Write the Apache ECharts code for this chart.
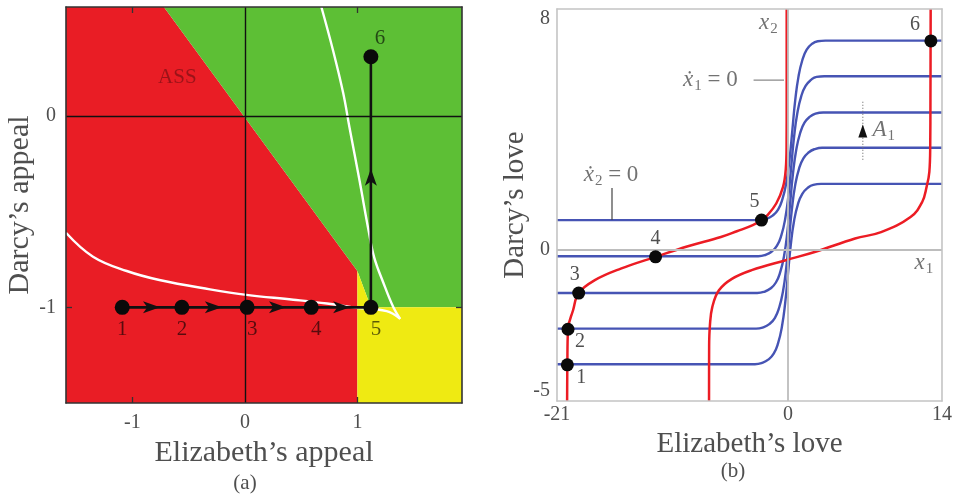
<!DOCTYPE html>
<html><head><meta charset="utf-8">
<script src="https://cdn.jsdelivr.net/npm/echarts@6/dist/echarts.min.js"></script>
<style>html,body{margin:0;padding:0;background:#fff}#c{width:955px;height:494px}</style>
</head><body><div id="c"></div>
<script>
// ================= Panel (a) =================
const appealXRange = [-1.59, 1.93];
const appealYRange = [-1.5, 0.57];
const appealXTicks = [-1, 0, 1];
const appealYTicks = [-1, 0];
const redRegion = [[-1.59,0.57],[-0.72,0.57],[1,-0.81],[1,-1.5],[-1.59,-1.5]];
const greenRegion = [[-0.72,0.57],[1.93,0.57],[1.93,-1],[1.12,-1],[1,-0.81]];
const yellowRegion = [[1,-0.81],[1.12,-1],[1.93,-1],[1.93,-1.5],[1,-1.5]];
const whiteLower = [[-1.59,-0.61],[-1.35,-0.735],[-1.05,-0.81],[-0.76,-0.857],[-0.31,-0.906],[0.015,-0.935],[0.43,-0.96],[0.73,-0.98],[0.96,-1.0],[1.26,-1.02],[1.38,-1.06]];
const whiteUpper = [[0.68,0.57],[0.785,0.34],[0.874,0.12],[0.93,-0.06],[1.02,-0.34],[1.1,-0.6],[1.15,-0.74],[1.23,-0.87],[1.32,-1.0],[1.38,-1.06]];
const appealPath = [[-1.09,-1],[1.12,-1],[1.12,0.31]];
const appealPoints = [[-1.09,-1],[-0.56,-1],[0.02,-1],[0.59,-1],[1.12,-1],[1.12,0.31]];
const appealPointLabels = ['1','2','3','4','5','6'];
const arrowRight = [[-0.83,-1],[-0.28,-1],[0.29,-1],[0.86,-1]];
const arrowUp = [[1.12,-0.32]];
const assLabel = [[-0.6,0.2]];

// ================= Panel (b) =================
const loveXRange = [-21, 14];
const loveYRange = [-5, 8];
const loveXTicks = [-21, 0, 14];
const loveYTicks = [-5, 0, 8];
const blue1 = [[-21,-3.78],[-3,-3.78],[-2.3,-3.73],[-1.8,-3.63],[-1.3,-3.43],[-0.9,-3.08],[-0.55,-2.53],[-0.25,-1.73],[0,-0.78],[0.25,0.17],[0.55,0.97],[0.9,1.52],[1.3,1.87],[1.8,2.07],[2.3,2.17],[3,2.2],[14,2.2]];
const blue2 = [[-21,-2.6],[-2.9,-2.6],[-2.2,-2.55],[-1.7,-2.45],[-1.2,-2.25],[-0.8,-1.9],[-0.45,-1.35],[-0.15,-0.55],[0.1,0.4],[0.35,1.35],[0.65,2.15],[1.0,2.7],[1.4,3.05],[1.9,3.25],[2.4,3.35],[3.1,3.4],[14,3.4]];
const blue3 = [[-21,-1.42],[-2.8,-1.42],[-2.1,-1.37],[-1.6,-1.27],[-1.1,-1.07],[-0.7,-0.72],[-0.35,-0.17],[-0.05,0.63],[0.2,1.58],[0.45,2.53],[0.75,3.33],[1.1,3.88],[1.5,4.23],[2.0,4.43],[2.5,4.53],[3.2,4.57],[14,4.57]];
const blue4 = [[-21,-0.2],[-2.7,-0.2],[-2.0,-0.15],[-1.5,-0.05],[-1.0,0.15],[-0.6,0.5],[-0.25,1.05],[0.05,1.85],[0.3,2.8],[0.55,3.75],[0.85,4.55],[1.2,5.1],[1.6,5.45],[2.1,5.65],[2.6,5.75],[3.3,5.77],[14,5.77]];
const blue5 = [[-21,1.0],[-2.6,1.0],[-1.9,1.05],[-1.4,1.15],[-0.9,1.35],[-0.5,1.7],[-0.15,2.25],[0.15,3.05],[0.4,4.0],[0.65,4.95],[0.95,5.75],[1.3,6.3],[1.7,6.65],[2.2,6.85],[2.7,6.93],[3.4,6.95],[14,6.95]];
const redLeft = [[-20.08,-5],[-20.06,-3.8],[-20.0,-2.62],[-19.54,-1.99],[-19.03,-1.42],[-17.6,-1.0],[-15.2,-0.61],[-12.04,-0.22],[-9.1,0.13],[-6.1,0.44],[-4.65,0.63],[-3.2,0.83],[-2.41,1.0],[-1.9,1.15],[-1.07,1.55],[-0.45,2.1],[-0.2,2.7],[-0.13,3.5],[-0.12,5],[-0.12,8]];
const redRight = [[-7.18,-5],[-7.17,-3.2],[-7.1,-2.5],[-6.88,-1.88],[-6.28,-1.33],[-5.1,-0.95],[-3.3,-0.66],[-0.2,-0.33],[2.5,-0.05],[6.1,0.39],[8.46,0.6],[11.14,1.1],[12.2,1.6],[12.6,2.1],[12.85,2.6],[12.93,3.5],[12.95,5],[12.97,8]];
const lovePoints = [[-20.06,-3.8],[-20.0,-2.62],[-19.03,-1.42],[-12.04,-0.22],[-2.41,1.0],[12.99,6.94]];
const lovePointLabels = ['1','2','3','4','5','6'];
const leaderX1 = [[-3.13,5.64],[-0.36,5.64]];
const leaderX2 = [[-16.0,2.06],[-16.0,1.0]];
const a1Dotted = [[6.8,4.92],[6.8,2.99]];
const a1Arrow = [[6.8,3.95]];
const annotPos = [[-1.79,7.53],[12.35,-0.43],[-7.06,5.64],[-16.09,2.49],[8.7,3.98]];
const annotText = ['{i|x}{s|2}','{i|x}{s|1}','{i|ẋ}{s|1}{n| = 0}','{i|ẋ}{s|2}{n| = 0}','{i|A}{s|1}'];

// ================= chart =================
const SERIF = 'Liberation Serif';
const GRAY = '#4f4f4f';
const chart = echarts.init(document.getElementById('c'));

function polygon(points, color, axisIdx) {
  return {
    type: 'custom', xAxisIndex: axisIdx, yAxisIndex: axisIdx, silent: true, z: 1,
    data: points, encode: { x: 0, y: 1 },
    renderItem: function (params, api) {
      if (params.dataIndex !== 0) return null;
      return { type: 'polygon', shape: { points: points.map(p => api.coord(p)) }, style: { fill: color } };
    }
  };
}
function line(data, color, width, axisIdx, extra) {
  return Object.assign({
    type: 'line', xAxisIndex: axisIdx, yAxisIndex: axisIdx, data: data, showSymbol: false, symbol: 'none',
    silent: true, lineStyle: { color: color, width: width }, z: 3
  }, extra || {});
}
function frameAxes(range, ticks, gridIdx, color, tickVals, pos, labels, extra) {
  return Object.assign({
    type: 'value', gridIndex: gridIdx, min: range[0], max: range[1], position: pos,
    axisLine: { show: true, onZero: false, lineStyle: { color: color, width: 1.6 } },
    axisTick: { show: tickVals.length > 0, inside: true, length: 6, customValues: tickVals, lineStyle: { color: color, width: 1.3 } },
    axisLabel: { show: labels, customValues: ticks, fontFamily: SERIF, fontSize: 20, color: GRAY },
    splitLine: { show: false }, z: 10
  }, extra || {});
}
const rich = {
  i: { fontFamily: SERIF, fontStyle: 'italic', fontSize: 23, color: GRAY },
  s: { fontFamily: SERIF, fontSize: 15, color: GRAY, padding: [12, 0, 0, 1] },
  n: { fontFamily: SERIF, fontSize: 23, color: GRAY }
};
const nameStyle = { fontFamily: SERIF, fontSize: 30, color: GRAY };

const option = {
  animation: false,
  backgroundColor: '#fff',
  grid: [
    { left: 66, top: 7, width: 396, height: 396 },
    { left: 557, top: 9, width: 391, height: 392 }
  ],
  xAxis: [
    frameAxes(appealXRange, appealXTicks, 0, '#333', [-1, 1], 'bottom', true, {
      name: 'Elizabeth’s appeal', nameLocation: 'middle', nameGap: 30, nameTextStyle: nameStyle,
      axisLabel: { customValues: appealXTicks, fontFamily: SERIF, fontSize: 20, color: GRAY, margin: 10 } }),
    frameAxes(loveXRange, loveXTicks, 1, '#c4c4c4', [], 'bottom', true, {
      name: 'Elizabeth’s love', nameLocation: 'middle', nameGap: 22, nameTextStyle: Object.assign({}, nameStyle, { fontSize: 29 }),
      axisLabel: { customValues: loveXTicks, fontFamily: SERIF, fontSize: 20, color: GRAY, margin: 4 } }),
    frameAxes(appealXRange, [], 0, '#333', [-1, 1], 'top', false),
    frameAxes(loveXRange, [], 1, '#c4c4c4', [], 'top', false)
  ],
  yAxis: [
    frameAxes(appealYRange, appealYTicks, 0, '#333', [-1], 'left', true, {
      name: 'Darcy’s appeal', nameLocation: 'middle', nameGap: 23, nameTextStyle: nameStyle,
      axisLabel: { customValues: appealYTicks, fontFamily: SERIF, fontSize: 20, color: GRAY, margin: 10 } }),
    frameAxes(loveYRange, loveYTicks, 1, '#c4c4c4', [], 'left', true, {
      name: 'Darcy’s love', nameLocation: 'middle', nameGap: 21, nameTextStyle: Object.assign({}, nameStyle, { fontSize: 29 }),
      axisLabel: { customValues: loveYTicks, fontFamily: SERIF, fontSize: 20, color: GRAY, margin: 7, verticalAlignMinLabel: 'bottom', verticalAlignMaxLabel: 'top' } }),
    frameAxes(appealYRange, [], 0, '#333', [-1], 'right', false),
    frameAxes(loveYRange, [], 1, '#c4c4c4', [], 'right', false)
  ],
  graphic: [
    { type: 'text', x: 245, y: 483, style: { text: '(a)', fontSize: 21, fontFamily: SERIF, fill: GRAY, align: 'center', verticalAlign: 'middle', textAlign: 'center', textVerticalAlign: 'middle' } },
    { type: 'text', x: 733, y: 471, style: { text: '(b)', fontSize: 21, fontFamily: SERIF, fill: GRAY, align: 'center', verticalAlign: 'middle', textAlign: 'center', textVerticalAlign: 'middle' } }
  ],
  series: [
    // ---- (a)
    polygon(redRegion, '#e91d25', 0),
    polygon(greenRegion, '#5dbf35', 0),
    polygon(yellowRegion, '#efea12', 0),
    {
      type: 'line', xAxisIndex: 0, yAxisIndex: 0, data: [], silent: true, z: 2,
      markLine: { silent: true, symbol: 'none', label: { show: false }, lineStyle: { color: '#111', width: 1.4, type: 'solid' },
        data: [{ xAxis: 0 }, { yAxis: 0 }] }
    },
    line(whiteLower, '#ffffff', 2.4, 0, { smooth: 0.4 }),
    line(whiteUpper, '#ffffff', 2.4, 0, { smooth: 0.4 }),
    line(appealPath, '#111', 2.6, 0, { z: 4 }),
    {
      type: 'scatter', xAxisIndex: 0, yAxisIndex: 0, data: arrowRight, silent: true, z: 5,
      symbol: 'path://M0,0 L16,6 L0,12 L4,6 Z', symbolSize: [17, 12], itemStyle: { color: '#111', opacity: 1 }
    },
    {
      type: 'scatter', xAxisIndex: 0, yAxisIndex: 0, data: arrowUp, silent: true, z: 5,
      symbol: 'path://M0,0 L16,6 L0,12 L4,6 Z', symbolSize: [17, 12], symbolRotate: 90, itemStyle: { color: '#111', opacity: 1 }
    },
    {
      type: 'scatter', xAxisIndex: 0, yAxisIndex: 0, silent: true, z: 6, symbolSize: 15, itemStyle: { color: '#0a0a0a', opacity: 1 },
      data: appealPoints.map((p, i) => ({
        value: p,
        label: { show: true, formatter: appealPointLabels[i], position: 'inside',
          offset: i === 5 ? [9, -18] : [i < 2 ? 0 : 5, 22],
          fontFamily: SERIF, fontSize: 21, color: 'rgba(0,0,0,0.62)' }
      }))
    },
    {
      type: 'scatter', xAxisIndex: 0, yAxisIndex: 0, silent: true, z: 6, symbolSize: 0, data: assLabel,
      label: { show: true, position: 'inside', formatter: 'ASS', fontFamily: SERIF, fontSize: 21, color: 'rgba(0,0,0,0.42)' }
    },
    // ---- (b)
    {
      type: 'line', xAxisIndex: 1, yAxisIndex: 1, data: [], silent: true, z: 2,
      markLine: { silent: true, symbol: 'none', label: { show: false }, lineStyle: { color: '#bdbdbd', width: 1.8, type: 'solid' },
        data: [{ xAxis: 0 }, { yAxis: 0 }] }
    },
    line(blue1, '#4654b4', 2.4, 1, { smooth: 0.5 }),
    line(blue2, '#4654b4', 2.4, 1, { smooth: 0.5 }),
    line(blue3, '#4654b4', 2.4, 1, { smooth: 0.5 }),
    line(blue4, '#4654b4', 2.4, 1, { smooth: 0.5 }),
    line(blue5, '#4654b4', 2.4, 1, { smooth: 0.5 }),
    line(redLeft, '#ec1c24', 2.5, 1, { smooth: 0.4, z: 4 }),
    line(redRight, '#ec1c24', 2.5, 1, { smooth: 0.4, z: 4 }),
    line(leaderX1, '#8a8a8a', 1.2, 1),
    line(leaderX2, '#444', 1.2, 1),
    line(a1Dotted, '#777', 1.2, 1, { lineStyle: { color: '#777', width: 1.2, type: [1, 2] } }),
    {
      type: 'scatter', xAxisIndex: 1, yAxisIndex: 1, data: a1Arrow, silent: true, z: 5,
      symbol: 'triangle', symbolSize: [9, 13], itemStyle: { color: '#111', opacity: 1 }
    },
    {
      type: 'scatter', xAxisIndex: 1, yAxisIndex: 1, silent: true, z: 6, symbolSize: 13, itemStyle: { color: '#0a0a0a', opacity: 1 },
      data: lovePoints.map((p, i) => ({
        value: p,
        label: { show: true, formatter: lovePointLabels[i], position: 'inside',
          offset: [[14, 13], [12, 13], [-4, -18], [0, -18], [-7, -18], [-16, -16]][i],
          fontFamily: SERIF, fontSize: 20, color: GRAY }
      }))
    },
    {
      type: 'scatter', xAxisIndex: 1, yAxisIndex: 1, silent: true, z: 6, symbolSize: 0,
      data: annotPos.map((p, i) => ({ value: p, label: { show: true, position: 'inside', formatter: annotText[i], rich: rich } }))
    }
  ]
};
chart.setOption(option);
</script>
</body></html>
